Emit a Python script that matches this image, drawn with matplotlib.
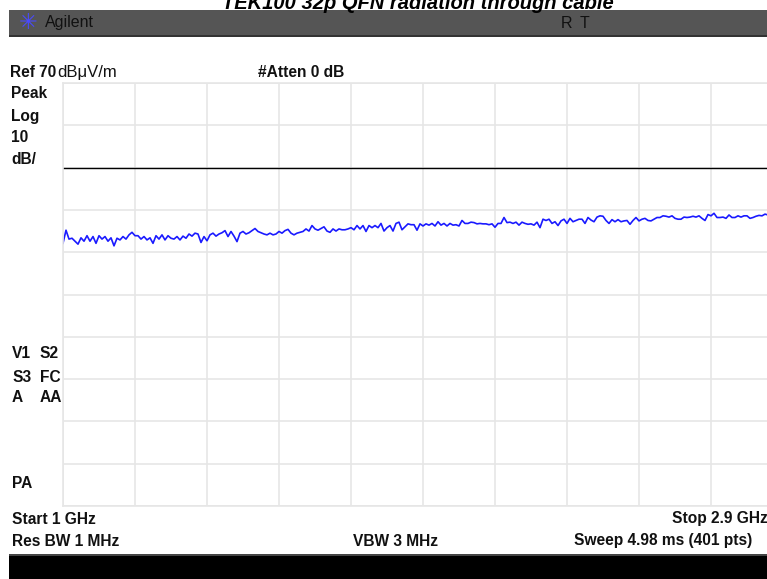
import numpy as np
import matplotlib.pyplot as plt
from matplotlib.patches import Rectangle

# trace (dBuV/m), 241 sweep samples, 1 -> 2.9 GHz
trace_db = [
    32.1, 35.2, 33.1, 33.3, 32.6, 31.9, 33.4, 32.6, 33.9, 32.6,
    33.7, 32.1, 33.9, 33.1, 33.7, 32.6, 33.4, 31.5, 33.3, 32.9,
    33.7, 33.1, 34.1, 34.7, 33.9, 33.9, 33.1, 33.7, 32.9, 33.4,
    32.1, 33.9, 33.1, 34.1, 32.9, 33.9, 33.3, 33.1, 33.7, 32.9,
    33.8, 33.3, 34.3, 33.8, 34.5, 34.3, 32.3, 33.7, 32.7, 34.1,
    34.5, 33.8, 34.3, 34.6, 35.1, 33.7, 34.9, 33.8, 32.5, 34.5,
    34.9, 34.3, 34.6, 35.1, 35.6, 34.9, 34.6, 34.3, 34.1, 34.5,
    34.1, 34.3, 34.9, 34.5, 35.1, 35.4, 34.5, 34.1, 34.5, 34.7,
    34.9, 35.5, 35.0, 36.3, 35.5, 35.2, 35.6, 36.0, 35.0, 34.7,
    35.5, 35.0, 35.5, 35.3, 35.3, 35.5, 35.8, 35.3, 36.3, 35.5,
    36.3, 34.9, 36.3, 35.8, 36.3, 35.8, 36.8, 35.0, 35.8, 36.3,
    35.0, 36.8, 37.1, 35.3, 36.0, 36.7, 36.5, 36.5, 35.2, 36.7,
    36.2, 36.7, 36.4, 36.8, 36.2, 37.2, 36.4, 36.8, 36.2, 36.8,
    36.4, 36.5, 36.2, 37.5, 36.8, 36.8, 37.1, 37.0, 36.7, 36.8,
    36.7, 36.7, 36.5, 36.7, 35.9, 36.8, 36.8, 38.2, 37.0, 37.1,
    36.8, 37.1, 36.4, 37.1, 36.8, 36.6, 36.7, 36.4, 37.1, 35.8,
    37.8, 37.5, 37.8, 36.8, 37.2, 36.3, 37.4, 37.8, 36.8, 38.0,
    37.2, 37.5, 37.8, 37.8, 36.8, 38.2, 37.6, 37.2, 38.3, 38.6,
    38.5, 37.5, 36.8, 37.7, 37.2, 37.7, 37.2, 37.4, 37.5, 36.6,
    37.5, 38.2, 37.4, 37.8, 38.0, 37.5, 37.4, 37.8, 38.2, 38.2,
    38.6, 38.5, 38.3, 38.6, 38.0, 37.8, 37.8, 38.3, 38.2, 38.3,
    38.5, 38.3, 38.6, 38.0, 37.5, 38.9, 38.6, 39.2, 38.2, 38.2,
    38.3, 38.0, 38.8, 38.2, 38.2, 38.6, 38.3, 38.6, 38.6, 38.0,
    38.2, 38.5, 38.7, 38.6, 39.0, 38.8, 39.0, 38.6, 38.9, 38.7,
    39.1,
]
start_ghz = 1.0
stop_ghz = 2.9
ref_level = 70
db_per_div = 10
display_line = 50

W, H = 767, 579
fig = plt.figure(figsize=(W / 100, H / 100), dpi=100)
fig.patch.set_facecolor("white")


def fx(px):
    return px / W


def fy(py):
    return 1 - py / H


# plot area (runs past the right edge of the screenshot)
ax = fig.add_axes([fx(63), fy(506), 720 / W, 423 / H])
freqs = np.linspace(start_ghz, stop_ghz, len(trace_db))
ax.set_xlim(start_ghz, stop_ghz)
ax.set_ylim(ref_level - 10 * db_per_div, ref_level)
ax.set_xticks(np.linspace(start_ghz, stop_ghz, 11))
ax.set_yticks(np.arange(ref_level - 10 * db_per_div, ref_level + 1, db_per_div))
ax.grid(True, color="#e6e6e6", linewidth=1.2)
ax.tick_params(length=0, labelbottom=False, labelleft=False)
for sp in ax.spines.values():
    sp.set_color("#e6e6e6")
    sp.set_linewidth(1.2)
ax.axhline(display_line, color="black", linewidth=1.0)
ax.plot(freqs, trace_db, color="#1a1aff", linewidth=1.2)

# header bar
fig.add_artist(Rectangle((fx(9), fy(36)), fx(W), 26 / H, transform=fig.transFigure,
                         facecolor="#555555", edgecolor="none"))
fig.add_artist(Rectangle((fx(9), fy(37)), fx(W), 2 / H, transform=fig.transFigure,
                         facecolor="#333333", edgecolor="none"))
fig.text(fx(28), fy(23), "\u2733", color="#4a4aff", fontsize=16, ha="center", va="center",
         family="DejaVu Sans")
fig.text(fx(45), fy(23), "Agilent", color="#111111", fontsize=11.5, va="center",
         family="Liberation Sans")
fig.text(fx(561), fy(23), "R", color="#111111", fontsize=11.5, va="center", family="Liberation Sans")
fig.text(fx(580), fy(23), "T", color="#111111", fontsize=11.5, va="center", family="Liberation Sans")

# title (cut off at the top of the screenshot)
fig.text(fx(418), fy(9), "TEK100 32p QFN radiation through cable", ha="center", va="baseline",
         fontsize=14.5, fontweight="bold", fontstyle="italic", family="Liberation Sans")

# black bar at bottom
fig.add_artist(Rectangle((fx(9), 0), fx(W), 25 / H, transform=fig.transFigure,
                         facecolor="black", edgecolor="none"))
fig.add_artist(Rectangle((fx(9), fy(556)), fx(W), 2 / H, transform=fig.transFigure,
                         facecolor="#444444", edgecolor="none"))

lab = dict(fontsize=11.2, fontweight="bold", family="Liberation Sans", va="center", color="#111111")
fig.text(fx(10), fy(77), "Ref 70", fontsize=11.2, fontweight="bold", family="Liberation Sans",
         va="baseline", color="#111111")
fig.text(fx(57), fy(77), "dB\u03bcV/m", fontsize=12, family="Liberation Sans", va="baseline",
         color="#111111")
fig.text(fx(258), fy(77), "#Atten 0 dB", fontsize=11.2, fontweight="bold",
         family="Liberation Sans", va="baseline", color="#111111")
for txt, y in [("Peak", 94), ("Log", 116), ("10", 137), ("dB/", 159)]:
    fig.text(fx(11), fy(y), txt, **lab)
for a, b, y in [("V1", "S2", 354), ("S3", "FC", 377), ("A", "AA", 398)]:
    fig.text(fx(12), fy(y), a, **lab)
    fig.text(fx(40), fy(y), b, **lab)
fig.text(fx(12), fy(484), "PA", **lab)
fig.text(fx(12), fy(519), "Start 1 GHz", **lab)
fig.text(fx(12), fy(541), "Res BW 1 MHz", **lab)
fig.text(fx(395), fy(541), "VBW 3 MHz", ha="center", **lab)
fig.text(fx(768), fy(519), "Stop 2.9 GHz", ha="right", **lab)
fig.text(fx(574), fy(541), "Sweep 4.98 ms (401 pts)", **lab)

fig.savefig("out.png", dpi=100)
plt.close("all")
